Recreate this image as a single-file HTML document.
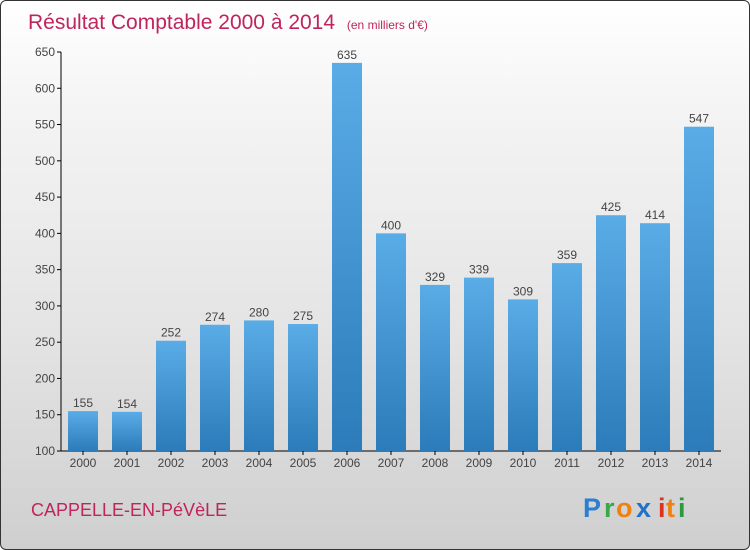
<!DOCTYPE html>
<html><head><meta charset="utf-8"><style>
html,body{margin:0;padding:0;width:750px;height:550px;overflow:hidden}
#frame{position:absolute;left:0;top:0;width:748px;height:548px;border:1px solid #333;border-radius:6px;background:linear-gradient(#ffffff,#f4f4f4 20%,#e4e4e4 60%,#cfcfcf);overflow:hidden;font-family:"Liberation Sans","DejaVu Sans",sans-serif}
</style></head><body>
<div id="frame">
<svg width="750" height="550" id="svg">
<text x="27" y="28" font-size="21" fill="#c0245c">Résultat Comptable 2000 à 2014 <tspan font-size="12" dx="6">(en milliers d'€)</tspan></text>
<text x="30" y="515" font-size="18" fill="#c0245c">CAPPELLE-EN-PéVèLE</text>
<g font-size="27" font-weight="bold">
<text x="582" y="516" fill="#2a7fd0">P</text><text x="603" y="516" fill="#3aa84a">r</text><text x="615" y="516" fill="#f08010">o</text><text x="635" y="516" fill="#1f72c8">x</text><text x="657" y="516" fill="#e03020">i</text><text x="665" y="516" fill="#f08010">t</text><text x="677" y="516" fill="#2a9a40">i</text>
</g>
<defs><linearGradient id="bg" x1="0" y1="0" x2="0" y2="1"><stop offset="0" stop-color="#5aace6"/><stop offset="1" stop-color="#2c7bba"/></linearGradient></defs>
<g id="plot"></g>
</svg></div>
<script>
const years=["2000","2001","2002","2003","2004","2005","2006","2007","2008","2009","2010","2011","2012","2013","2014"];
const values=[155,154,252,274,280,275,635,400,329,339,309,359,425,414,547];
const ticks=[100,150,200,250,300,350,400,450,500,550,600,650];
const NS="http://www.w3.org/2000/svg";
const g=document.getElementById('plot');
const y=v=>450-(v-100)*(399/550);
const x=i=>82+i*44;
function mk(t,a){const e=document.createElementNS(NS,t);for(const k in a)e.setAttribute(k,a[k]);g.appendChild(e);return e;}
let ax=mk('line',{x1:60,y1:51,x2:60,y2:450,stroke:'#000'});


let bx=mk('line',{x1:60,y1:450,x2:720,y2:450,stroke:'#000'});


ticks.forEach(t=>{
 mk('line',{x1:56,y1:y(t),x2:60,y2:y(t),stroke:'#000'});
 const l=mk('text',{x:54,y:y(t)+4,'text-anchor':'end','font-size':12,fill:'#444'});l.textContent=t;
 
 
});
years.forEach((yr,i)=>{
 const r=mk('rect',{x:x(i)-15,y:y(values[i]),width:30,height:450-y(values[i]),fill:'url(#bg)'});
 
 
 const v=mk('text',{x:x(i),y:y(values[i])-4,'text-anchor':'middle','font-size':12,fill:'#444'});v.textContent=values[i];
 
 
 mk('line',{x1:x(i),y1:450,x2:x(i),y2:454,stroke:'#000'});
 const l=mk('text',{x:x(i),y:466,'text-anchor':'middle','font-size':12,fill:'#444'});l.textContent=yr;
 
 
});
</script>
</body></html>
